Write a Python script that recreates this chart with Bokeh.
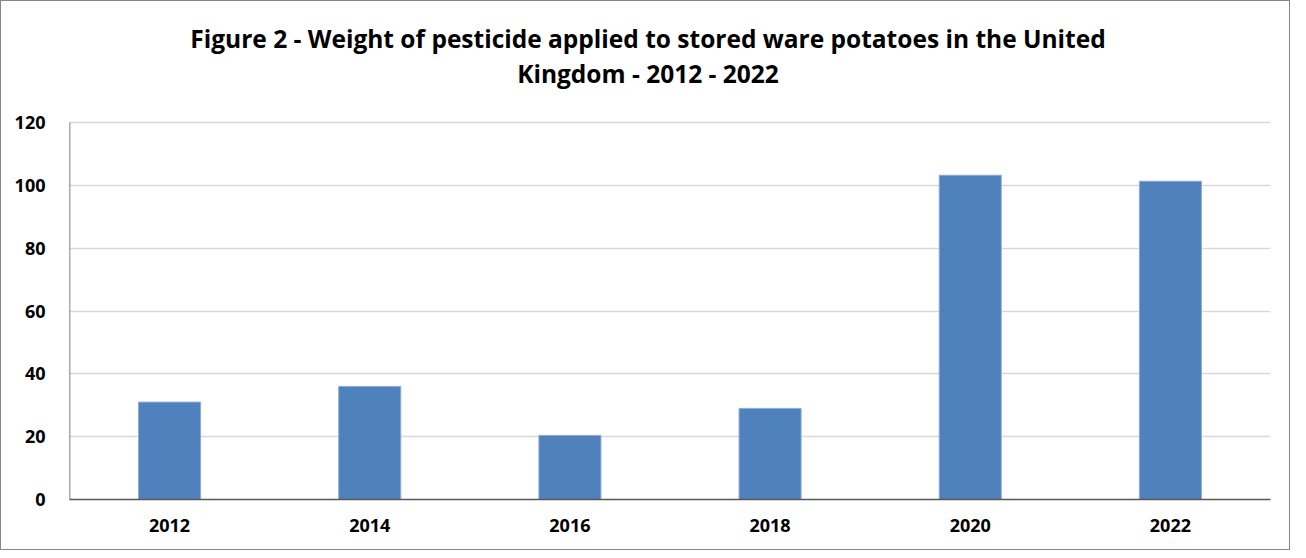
from bokeh.plotting import figure
from bokeh.models import ColumnDataSource, Range1d, FixedTicker
from bokeh.core.properties import value
from bokeh.embed import file_html
from bokeh.resources import INLINE

years = ["2012", "2014", "2016", "2018", "2020", "2022"]
weights = [31, 36, 20.4, 29, 103.2, 101.3]
y_ticks = [0, 20, 40, 60, 80, 100, 120]
title_lines = ["Figure 2 - Weight of pesticide applied to stored ware potatoes in the United",
               "Kingdom - 2012 - 2022"]

src = ColumnDataSource(data=dict(year=years, weight=weights))

# frame spans the full height above the x axis; the title sits in the space above 120
FRAME_H = 498
Y_MAX = 120
y_end = FRAME_H * Y_MAX / 377.0

p = figure(x_range=years, y_range=Range1d(0, y_end), width=1290, height=550,
           output_backend="svg", toolbar_location=None,
           min_border_left=68, min_border_right=21, min_border_top=0, min_border_bottom=52)

p.vbar(x="year", top="weight", width=0.31, source=src,
       fill_color="#4F81BD", line_color="#8FAAD6", line_width=1)

# value axis line, only over the value scale
p.segment(x0=[0], y0=[0], x1=[0], y1=[Y_MAX], line_color="#595959", line_width=1.5)

# title lines (positions in plot space above the value scale)
title_src = ColumnDataSource(data=dict(
    x=[3, 3], y=[(FRAME_H - 37) * Y_MAX / 377.0, (FRAME_H - 72) * Y_MAX / 377.0],
    text=title_lines))
p.text(x="x", y="y", text="text", source=title_src, x_offset=-22,
       text_align="center", text_baseline="middle",
       text_font=value("Open Sans"), text_font_style="bold",
       text_font_size="24.5px", text_color="#000000")

p.outline_line_color = None
p.xgrid.grid_line_color = None
p.ygrid.grid_line_color = "#D9D9D9"
p.ygrid.grid_line_width = 1.5

p.yaxis.ticker = FixedTicker(ticks=y_ticks)
for ax in (p.xaxis[0], p.yaxis[0]):
    ax.axis_line_color = "#595959"
    ax.axis_line_width = 1.5
    ax.major_tick_line_color = None
    ax.minor_tick_line_color = None
    ax.major_label_text_font = "Open Sans"
    ax.major_label_text_font_style = "bold"
    ax.major_label_text_font_size = "18px"
    ax.major_label_text_color = "#000000"
p.yaxis.axis_line_color = None
p.yaxis.major_label_standoff = 18
p.xaxis.major_label_standoff = 13

p.styles = {"border": "1.5px solid #868686"}

open("out.html", "w").write(file_html(p, INLINE))
